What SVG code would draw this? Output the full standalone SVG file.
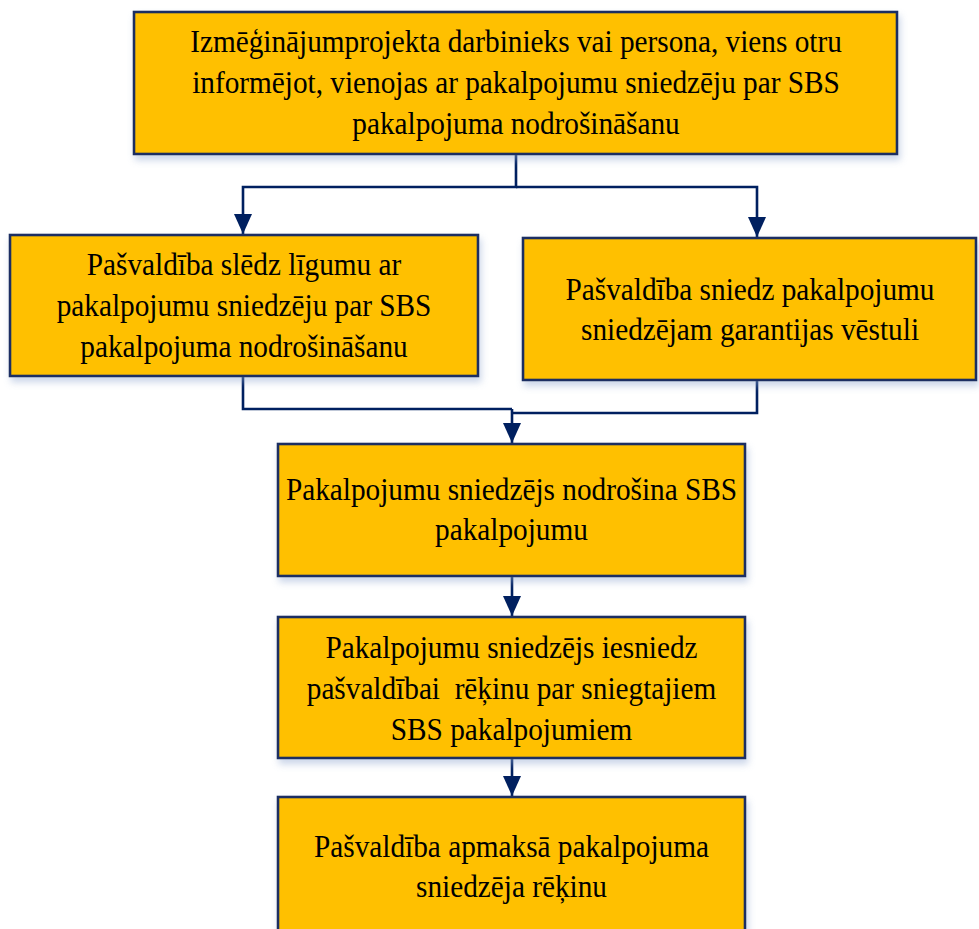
<svg xmlns="http://www.w3.org/2000/svg" width="979" height="929" viewBox="0 0 979 929">
  <defs>
    <filter id="sh" x="-5%" y="-10%" width="112%" height="130%">
      <feDropShadow dx="2" dy="5" stdDeviation="3.5" flood-color="#8ea5cf" flood-opacity="0.45"/>
    </filter>
    <marker id="arr" markerUnits="userSpaceOnUse" markerWidth="20" markerHeight="20" viewBox="0 0 20 20" refX="20" refY="10" orient="auto">
      <path d="M0,1 L20,10 L0,19 z" fill="#002060"/>
    </marker>
    <style>
      .box { fill: #FFC000; stroke: #1A2F62; stroke-width: 2.6; filter: url(#sh); }
      .t { font-family: "Liberation Serif", "Times New Roman", serif; font-size: 30.5px; fill: #000; text-anchor: middle; }
      .c { fill: none; stroke: #002060; stroke-width: 2.6; }
    </style>
  </defs>
  <rect width="979" height="929" fill="#fff"/>

  <g id="connectors">
    <path class="c" d="M516 155 V187 H243 V234" marker-end="url(#arr)"/>
    <path class="c" d="M516 187 H757 V237" marker-end="url(#arr)"/>
    <path class="c" d="M243 376 V409 H512"/>
    <path class="c" d="M757 380 V413 H512"/>
    <path class="c" d="M512 409 V443" marker-end="url(#arr)"/>
    <path class="c" d="M512 576 V616" marker-end="url(#arr)"/>
    <path class="c" d="M512 758 V796" marker-end="url(#arr)"/>
  </g>

  <g id="n1">
    <rect class="box" x="134" y="12" width="763" height="142"/>
    <g transform="translate(516 0) scale(0.96 1)">
      <text class="t" x="0" y="52">Izmēģinājumprojekta darbinieks vai persona, viens otru</text>
      <text class="t" x="0" y="93">informējot, vienojas ar pakalpojumu sniedzēju par SBS</text>
      <text class="t" x="0" y="134">pakalpojuma nodrošināšanu</text>
    </g>
  </g>

  <g id="n2">
    <rect class="box" x="10" y="235" width="468" height="141"/>
    <g transform="translate(244 0) scale(0.96 1)">
      <text class="t" x="0" y="275">Pašvaldība slēdz līgumu ar</text>
      <text class="t" x="0" y="316">pakalpojumu sniedzēju par SBS</text>
      <text class="t" x="0" y="357">pakalpojuma nodrošināšanu</text>
    </g>
  </g>

  <g id="n3">
    <rect class="box" x="523" y="238" width="453" height="142"/>
    <g transform="translate(750 0) scale(0.96 1)">
      <text class="t" x="0" y="300">Pašvaldība sniedz pakalpojumu</text>
      <text class="t" x="0" y="340">sniedzējam garantijas vēstuli</text>
    </g>
  </g>

  <g id="n4">
    <rect class="box" x="278" y="444" width="467" height="132"/>
    <g transform="translate(511.5 0) scale(0.96 1)">
      <text class="t" x="0" y="500">Pakalpojumu sniedzējs nodrošina SBS</text>
      <text class="t" x="0" y="540">pakalpojumu</text>
    </g>
  </g>

  <g id="n5">
    <rect class="box" x="278" y="617" width="467" height="141"/>
    <g transform="translate(511.5 0) scale(0.96 1)">
      <text class="t" x="0" y="658">Pakalpojumu sniedzējs iesniedz</text>
      <text class="t" x="0" y="699" style="white-space:pre">pašvaldībai  rēķinu par sniegtajiem</text>
      <text class="t" x="0" y="740">SBS pakalpojumiem</text>
    </g>
  </g>

  <g id="n6">
    <rect class="box" x="278" y="797" width="467" height="145"/>
    <g transform="translate(511.5 0) scale(0.96 1)">
      <text class="t" x="0" y="857">Pašvaldība apmaksā pakalpojuma</text>
      <text class="t" x="0" y="897">sniedzēja rēķinu</text>
    </g>
  </g>
</svg>
